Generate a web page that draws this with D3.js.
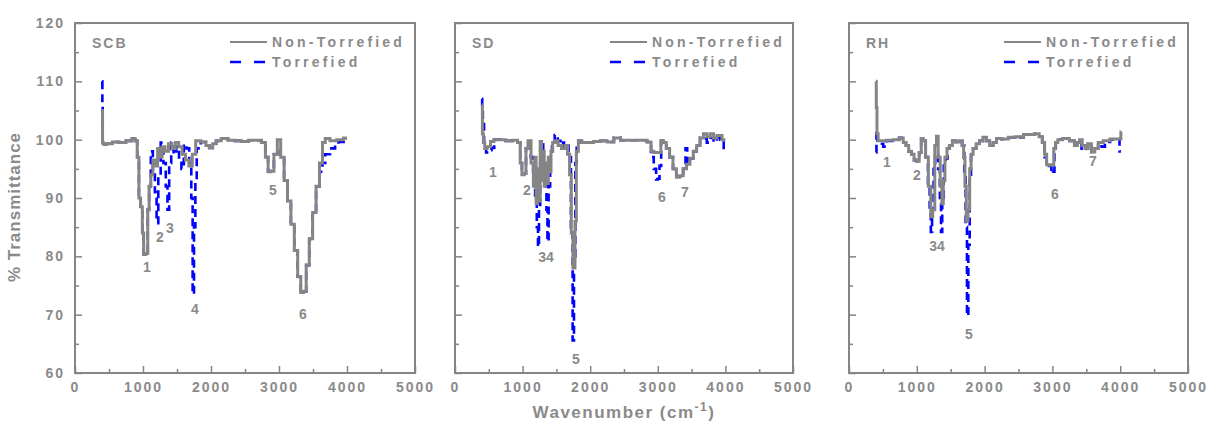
<!DOCTYPE html>
<meta charset="utf-8">
<script src="https://d3js.org/d3.v7.min.js"></script>
<style>
  body { margin: 0; background: #fff; }
  text { font-family: "Liberation Sans", Arial, sans-serif; font-weight: bold; fill: #8a8a8a; }
</style>
<div id="chart"></div>
<script>
// values (wavenumber, % transmittance)
const scbNonTorrefied = [[400,105],[410,99.5],[420,99.2],[500,99.3],[600,99.6],[700,99.5],[800,99.8],[870,100.2],[900,99.8],[930,97],[950,90],[980,88.5],[1000,84],[1020,80.3],[1060,80.5],[1080,88],[1100,92],[1130,94],[1160,96.5],[1200,95.5],[1230,98.5],[1260,97],[1300,98.8],[1350,98],[1400,99.3],[1450,98.5],[1500,99.5],[1550,98.8],[1600,97.5],[1650,96.5],[1700,95.5],[1750,97.5],[1800,99.8],[1900,99.6],[1950,99],[2000,98.6],[2050,99.3],[2100,99.8],[2200,100.2],[2300,99.9],[2400,99.8],[2500,99.7],[2600,99.9],[2700,99.9],[2780,99.5],[2820,97],[2860,94.5],[2900,94.6],[2950,97.5],[3000,100],[3050,97],[3100,93],[3150,89.5],[3200,85.5],[3250,81],[3300,76.5],[3340,73.8],[3380,74],[3420,78.5],[3470,83],[3520,87.5],[3570,92],[3620,96],[3660,99.5],[3700,100.2],[3800,99.8],[3900,100],[4000,100.3]];
const scbTorrefied = [[400,110],[405,106],[410,99.5],[420,99.2],[500,99.3],[600,99.6],[700,99.5],[800,99.8],[870,100.2],[900,99.8],[930,97],[950,90],[980,88.5],[1000,84],[1020,80.3],[1060,80.5],[1080,88],[1100,92],[1130,98],[1160,94.5],[1190,91],[1210,85.7],[1240,94],[1280,99.5],[1320,96],[1350,92],[1370,88],[1400,96],[1430,99.5],[1470,97.5],[1510,98.8],[1550,96.5],[1580,95],[1620,99.2],[1660,98.5],[1700,96],[1720,90],[1740,73.5],[1760,85],[1780,93],[1800,98.5],[1900,99.6],[1950,99],[2000,98.6],[2050,99.3],[2100,99.8],[2200,100.2],[2300,99.9],[2400,99.8],[2500,99.7],[2600,99.9],[2700,99.9],[2780,99.5],[2820,97],[2860,94.5],[2900,94.6],[2950,97.5],[3000,98.5],[3050,97],[3100,93],[3150,89.5],[3200,85.5],[3250,81],[3300,76.5],[3340,73.8],[3380,74],[3420,78.5],[3470,83],[3520,87.5],[3570,92],[3620,94.5],[3660,96],[3700,97.5],[3800,98.5],[3850,99.2],[3900,99.6],[4000,100.2]];
const scbPeaks = [["1",1059,78.2],["2",1250,83.3],["3",1397,84.9],["4",1765,71],["5",2912,91.4],["6",3353,70.1]];

const sdNonTorrefied = [[400,106],[410,101],[430,99.5],[450,98.5],[500,98.8],[550,99.7],[600,100],[700,100],[800,99.8],[900,99.9],[950,99.5],[980,96],[1000,94],[1040,94.2],[1060,98.5],[1100,99.8],[1150,96],[1170,92],[1190,97],[1210,89],[1230,95],[1250,89.5],[1270,99.7],[1290,93],[1310,98],[1330,92],[1350,96],[1370,92.5],[1390,97],[1410,94.5],[1430,98],[1460,99.5],[1500,99.8],[1550,99],[1600,98.5],[1650,99],[1680,97.5],[1710,94],[1730,84],[1760,78],[1790,86],[1800,98],[1850,99.8],[1900,99.5],[2000,99.5],[2100,99.7],[2200,99.8],[2300,99.6],[2400,100.3],[2500,99.9],[2600,99.9],[2700,99.9],[2800,99.9],[2880,99.6],[2920,98],[2960,97.8],[3030,97.8],[3060,99.8],[3100,99.5],[3150,98.5],[3200,97],[3250,95],[3300,93.6],[3350,93.8],[3400,95],[3450,95.8],[3500,96.8],[3550,98],[3600,99],[3650,100.3],[3700,101],[3750,100.5],[3800,101],[3850,100.3],[3900,100.7],[4000,100]];
const sdTorrefied = [[400,107],[405,105],[420,103],[440,99],[480,97.8],[520,98.2],[560,98.6],[600,100],[700,100],[800,99.8],[900,99.9],[950,99.5],[980,96],[1000,94],[1040,94.2],[1060,98.5],[1100,99.5],[1140,97],[1170,94],[1200,90],[1220,85],[1235,81.6],[1250,88],[1270,96],[1290,99.2],[1320,96],[1345,93],[1360,88],[1375,82.5],[1395,92],[1420,97],[1450,99.5],[1500,100.8],[1540,99.8],[1580,98.8],[1620,99.5],[1660,99],[1700,97],[1730,85],[1750,65.6],[1770,80],[1790,96],[1810,99.5],[1850,99.8],[1900,99.5],[2000,99.5],[2100,99.7],[2200,99.8],[2300,99.6],[2400,100.3],[2500,99.9],[2600,99.9],[2700,99.9],[2800,99.9],[2880,99.6],[2920,97],[2960,95],[2990,93.2],[3010,93.3],[3040,95.5],[3060,99.8],[3100,99.5],[3150,98.5],[3200,97],[3250,95],[3300,93.6],[3350,93.8],[3400,95],[3420,98.5],[3450,95.8],[3500,96.8],[3550,98],[3600,99],[3650,100.3],[3700,100.2],[3750,99.5],[3800,100.3],[3850,99.6],[3900,100.3],[3950,100],[4000,97.8]];
const sdPeaks = [["1",562,94.5],["2",1065,91.4],["34",1346,79.9],["5",1790,62.4],["6",3062,90.2],["7",3402,91]];

const rhNonTorrefied = [[400,110],[405,105.5],[420,101],[440,99.8],[500,99.8],[600,99.9],[700,100],[780,100.3],[820,99.5],[860,99],[900,98],[940,97.5],[980,96.5],[1020,96.3],[1050,97.8],[1080,100.2],[1110,99.8],[1150,97],[1190,92],[1220,86.8],[1250,88],[1280,99],[1300,100.6],[1330,97],[1360,92],[1380,89],[1400,93],[1430,97],[1460,98.5],[1500,99],[1550,99.8],[1600,99.6],[1650,99.8],[1680,99],[1700,97],[1720,92],[1740,86],[1770,88],[1790,95],[1810,97.5],[1850,98.5],[1900,99.3],[1950,99.8],[2000,100.4],[2050,99.8],[2100,99],[2150,99.5],[2200,100.2],[2300,100.1],[2400,100.4],[2500,100.5],[2550,100.4],[2600,100.9],[2700,100.9],[2780,101],[2830,100.5],[2870,99.5],[2900,97.5],[2930,95.7],[2970,95.6],[3010,95.7],[3030,98.5],[3060,99.5],[3100,100],[3200,100.2],[3300,99.8],[3350,99],[3380,99.5],[3420,100],[3460,99],[3500,98.5],[3550,99.3],[3600,97.9],[3650,98.5],[3700,99.5],[3800,99.8],[3900,100.1],[4000,100.1],[4020,101.3]];
const rhTorrefied = [[400,97.8],[410,101.5],[430,99.5],[480,99.3],[530,98.8],[580,99.8],[700,100],[780,100.3],[820,99.5],[860,99],[900,98],[940,97.5],[980,96.5],[1020,96.3],[1050,97.8],[1080,100.2],[1110,99.8],[1150,97],[1180,92],[1200,88],[1215,84.2],[1235,88],[1260,95],[1280,97.5],[1300,97.4],[1330,95],[1350,90],[1365,84.2],[1385,90],[1410,96],[1440,96.8],[1470,98.5],[1500,99],[1550,99.8],[1600,99.6],[1650,99.8],[1690,99],[1710,94],[1730,85],[1750,69.8],[1770,82],[1790,94],[1810,97.3],[1850,98.5],[1900,99.3],[1950,99.8],[2000,100.4],[2050,99.8],[2100,99],[2150,99.5],[2200,100.2],[2300,100.1],[2400,100.4],[2500,100.5],[2550,100.4],[2600,100.9],[2700,100.9],[2780,101],[2830,100.5],[2870,99.5],[2900,97],[2930,95.7],[2970,95.5],[3000,94.2],[3020,94.5],[3040,98.5],[3060,99.5],[3100,100],[3200,100.2],[3300,99.8],[3350,99],[3380,99.5],[3420,100],[3440,98.2],[3480,98.4],[3500,98.5],[3550,99.3],[3600,97.9],[3650,98.5],[3700,99.3],[3750,98.8],[3800,99.6],[3900,100],[3980,100.1],[4000,98],[4010,98]];
const rhPeaks = [["1",560,96.2],["2",1003,93.9],["34",1298,81.8],["5",1770,66.7],["6",3038,90.7],["7",3599,96.3]];

const xTicks = [0, 1000, 2000, 3000, 4000, 5000];
const xMinor = [500, 1500, 2500, 3500, 4500];
const yTicks = [60, 70, 80, 90, 100, 110, 120];
const yMinor = [65, 75, 85, 95, 105, 115];
const seriesNames = ["Non-Torrefied", "Torrefied"];

const panels = [
  {name: "SCB", non: scbNonTorrefied, tor: scbTorrefied, peaks: scbPeaks, left: 75, width: 340, yLabels: true},
  {name: "SD", non: sdNonTorrefied, tor: sdTorrefied, peaks: sdPeaks, left: 455, width: 338, yLabels: false},
  {name: "RH", non: rhNonTorrefied, tor: rhTorrefied, peaks: rhPeaks, left: 849, width: 339, yLabels: false}
];

const W = 1218, H = 423, plotTop = 23, ph = 350;
const gray = "#858585", blue = "#0000ff";

const svg = d3.select("#chart").append("svg")
  .attr("width", W).attr("height", H);

panels.forEach(p => {
  const g = svg.append("g").attr("transform", `translate(${p.left},${plotTop})`);
  const x = d3.scaleLinear().domain([0, 5000]).range([0, p.width]);
  const y = d3.scaleLinear().domain([60, 120]).range([ph, 0]);

  // axes, ticks pointing inward
  g.append("g").attr("transform", `translate(0,${ph})`)
    .call(d3.axisBottom(x).tickValues(xTicks).tickSize(-7).tickPadding(9).tickFormat(d3.format("d")));
  g.append("g").attr("transform", `translate(0,${ph})`)
    .call(d3.axisBottom(x).tickValues(xMinor).tickSize(-4).tickFormat(""));
  g.append("g")
    .call(d3.axisLeft(y).tickValues(yTicks).tickSize(-7).tickPadding(10)
      .tickFormat(p.yLabels ? d3.format("d") : ""));
  g.append("g").call(d3.axisLeft(y).tickValues(yMinor).tickSize(-4).tickFormat(""));
  g.selectAll(".domain").remove();
  g.selectAll(".tick line").attr("stroke", gray).attr("stroke-width", 1.5);
  g.selectAll(".tick text").style("font-size", "14px").style("letter-spacing", "2px")
    .attr("fill", gray);

  g.append("rect").attr("width", p.width).attr("height", ph)
    .attr("fill", "none").attr("stroke", gray).attr("stroke-width", 2);

  const line = d3.line().x(d => x(d[0])).y(d => y(d[1])).curve(d3.curveStep);

  // torrefied first, non-torrefied drawn over it
  g.append("path").datum(p.tor).attr("d", line)
    .attr("fill", "none").attr("stroke", blue).attr("stroke-width", 2.6)
    .attr("stroke-dasharray", "8,5");
  g.append("path").datum(p.non).attr("d", line)
    .attr("fill", "none").attr("stroke", gray).attr("stroke-width", 3);

  g.selectAll("text.peak").data(p.peaks).enter().append("text")
    .attr("class", "peak")
    .attr("x", d => x(d[1])).attr("y", d => y(d[2]))
    .attr("text-anchor", "middle").attr("dominant-baseline", "central")
    .style("font-size", "14px").text(d => d[0]);

  g.append("text").attr("x", 17).attr("y", 25)
    .style("font-size", "14px").style("letter-spacing", "2px").text(p.name);

  // legend
  const lg = g.append("g");
  lg.append("line").attr("x1", 155).attr("x2", 192).attr("y1", 19).attr("y2", 19)
    .attr("stroke", gray).attr("stroke-width", 2);
  lg.append("line").attr("x1", 155).attr("x2", 192).attr("y1", 39).attr("y2", 39)
    .attr("stroke", blue).attr("stroke-width", 2.5).attr("stroke-dasharray", "11,13");
  lg.selectAll("text").data(seriesNames).enter().append("text")
    .attr("x", 197).attr("y", (d, i) => 24 + i * 20)
    .style("font-size", "14px").style("letter-spacing", "3.2px").text(d => d);
});

svg.append("text")
  .attr("transform", "translate(20,207) rotate(-90)")
  .attr("text-anchor", "middle")
  .style("font-size", "17px").style("letter-spacing", "1px")
  .text("% Transmittance");

const xl = svg.append("text").attr("x", 624).attr("y", 418)
  .attr("text-anchor", "middle")
  .style("font-size", "17px").style("letter-spacing", "1.5px");
xl.append("tspan").text("Wavenumber (cm");
xl.append("tspan").attr("dy", -7).style("font-size", "12px").text("-1");
xl.append("tspan").attr("dy", 7).text(")");
</script>
</html>
